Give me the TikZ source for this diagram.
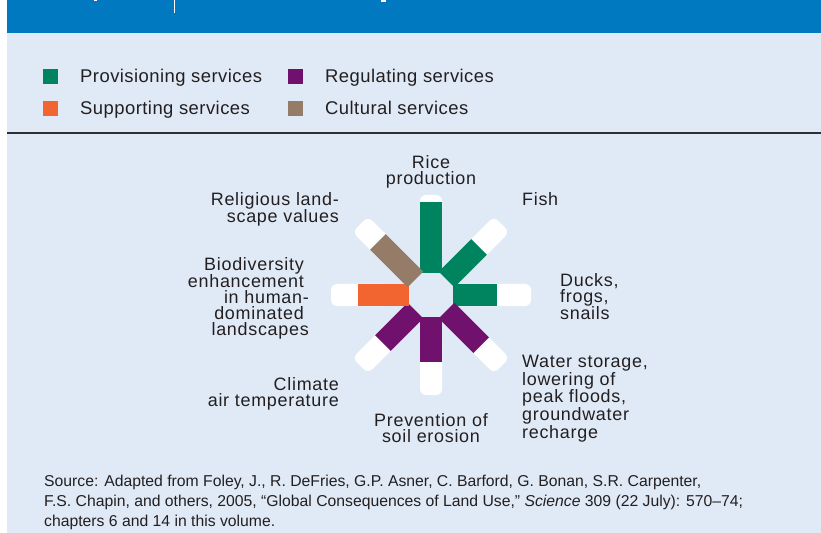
\documentclass[tikz,border=0pt]{standalone}
\usepackage{fontspec}
\setmainfont{Liberation Sans}
\newfontfamily\legfont[LetterSpace=2.5]{Liberation Sans}
\newfontfamily\lblfont[LetterSpace=4]{Liberation Sans}
\newfontfamily\srcfont{Liberation Sans}
\usetikzlibrary{calc}
\definecolor{hdrblue}{HTML}{0079C1}
\definecolor{panel}{HTML}{E0EAF6}
\definecolor{provgreen}{HTML}{00845F}
\definecolor{regpurple}{HTML}{70116E}
\definecolor{suporange}{HTML}{F26531}
\definecolor{culbrown}{HTML}{957C68}
\definecolor{txt}{HTML}{231F20}
\definecolor{rulegray}{HTML}{2F2F35}
\tikzset{
  lbl/.style={inner sep=0pt, text=txt, font=\lblfont\fontsize{18}{16}\selectfont},
  leg/.style={inner sep=0pt, text=txt, font=\legfont\fontsize{18.5}{20}\selectfont, anchor=base west},
  swatch/.style={minimum width=15bp, minimum height=15bp, inner sep=0pt, anchor=north west},
  whiteend/.style={fill=white, rounded corners=6bp},
}
\newcommand{\petal}[3]{%
  \begin{scope}[shift={(c)}, rotate=#1]
    \fill[whiteend] (40,-11) rectangle (100,11);
    \fill[#2] (22,-11) rectangle (#3,11);
  \end{scope}}
\begin{document}
\begin{tikzpicture}[x=1bp,y=-1bp]
\useasboundingbox (0,0) rectangle (821,533);
\fill[white] (0,0) rectangle (821,533);
% panel and header
\fill[panel] (7,33) rectangle (821,533);
\fill[hdrblue] (7,0) rectangle (821,33);
\fill[white] (173.5,0) rectangle (174.6,13);
\fill[white] (94,0) rectangle (97,1);
\fill[white] (381,0) rectangle (386,1.6);
% legend
\node[swatch, fill=provgreen] (s1) at (43,69) {};
\node[swatch, fill=regpurple] (s2) at (288,69) {};
\node[swatch, fill=suporange] (s3) at (43,101) {};
\node[swatch, fill=culbrown] (s4) at (288,101) {};
\node[leg] (l1) at (80,83) {Provisioning services};
\node[leg] (l2) at (325,83) {Regulating services};
\node[leg] (l3) at (80,114.5) {Supporting services};
\node[leg] (l4) at (325,114.5) {Cultural services};
\draw[rulegray, line width=1.5bp] (7,133) -- (821,133);
% flower
\coordinate (c) at (431,295);
\petal{90}{provgreen}{93}
\petal{45}{provgreen}{68}
\petal{0}{provgreen}{66}
\petal{-45}{regpurple}{71}
\petal{-90}{regpurple}{67}
\petal{-135}{regpurple}{68}
\petal{180}{suporange}{73}
\petal{135}{culbrown}{75}
% labels
\node[lbl, anchor=north, align=center] (rice) at (431,155) {Rice\\production};
\node[lbl, anchor=north west, align=left] (fish) at (522,192) {Fish};
\node[lbl, anchor=north west, align=left] (ducks) at (560,273) {Ducks,\\frogs,\\snails};
\node[lbl, anchor=north west, align=left] (water) at (522,355) {Water storage,\\lowering of\\peak floods,\\groundwater\\recharge};
\node[lbl, anchor=north, align=center] (soil) at (431,413) {Prevention of\\soil erosion};
\node[lbl, anchor=north east, align=right] (climate) at (339,377) {Climate\\air temperature};
\node[lbl, anchor=north east, align=right] (bio) at (309,257) {Biodiversity\makebox[5bp]{}\\enhancement\makebox[5bp]{}\\in human-\\dominated\makebox[5bp]{}\\landscapes};
\node[lbl, anchor=north east, align=right] (relig) at (339,192) {Religious land-\\scape values};
% source
\node[inner sep=0pt, text=txt, anchor=north west, align=left, font=\srcfont\fontsize{15.8}{20.3}\selectfont] (src) at (44,474.5)
{Source: Adapted from Foley, J., R. DeFries, G.P. Asner, C. Barford, G. Bonan, S.R. Carpenter,\\
F.S. Chapin, and others, 2005, “Global Consequences of Land Use,” \textit{Science} 309 (22 July): 570–74;\\
chapters 6 and 14 in this volume.};
\end{tikzpicture}
\end{document}
